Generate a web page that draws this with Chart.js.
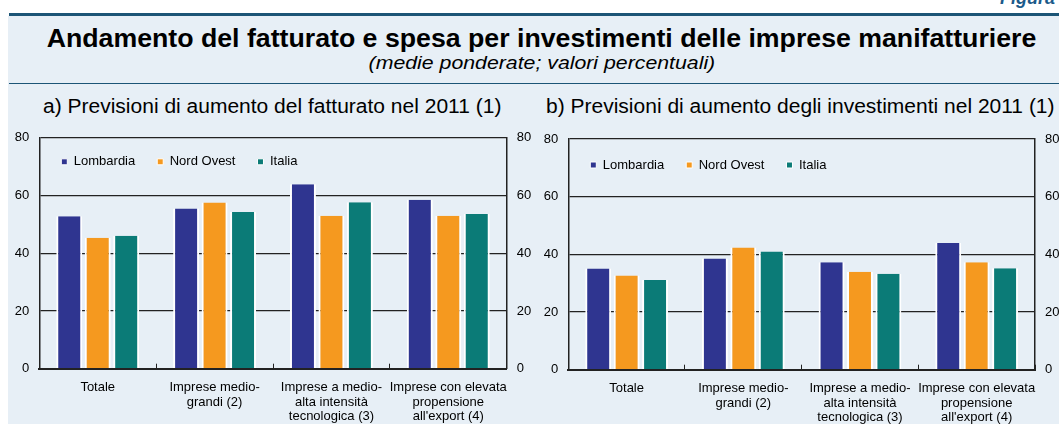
<!DOCTYPE html>
<html><head><meta charset="utf-8">
<script src="https://cdn.jsdelivr.net/npm/chart.js@4"></script>
<style>
html,body{margin:0;padding:0;background:#fff;width:1059px;height:424px;overflow:hidden;font-family:"Liberation Sans",Arial,sans-serif;}
#bg{position:absolute;left:8px;top:16px;width:1100px;height:420px;background:#e7eff6;}
#topline{position:absolute;left:9px;top:13px;width:1100px;height:3px;background:#1c5576;}
#boxline{position:absolute;left:9px;top:83px;width:1100px;height:1px;background:#1c5576;}
#fig{position:absolute;left:1000px;top:-12px;font:bold italic 18px/20px "Liberation Sans",Arial;color:#1c5a8a;white-space:nowrap;}
#title{position:absolute;left:8px;width:1067px;top:23px;text-align:center;font:bold 25px/30px "Liberation Sans",Arial;color:#000;white-space:nowrap;transform:scaleX(1.068);transform-origin:533.5px 0;}
#sub{position:absolute;left:8px;width:1067px;top:52px;text-align:center;font:italic 19px/22px "Liberation Sans",Arial;color:#000;white-space:nowrap;transform:scaleX(1.12);transform-origin:530px 0;}
.h{position:absolute;top:94px;font:20px/24px "Liberation Sans",Arial;color:#000;white-space:nowrap;transform:scaleX(1.05);transform-origin:0 0;}
#ha{left:43px;}
#hb{left:546px;}
.cw{position:absolute;top:120px;height:304px;}
#wa{left:0;width:537px;}
#wb{left:537px;width:522px;}
</style></head>
<body>
<div id="bg"></div>
<div id="topline"></div>
<div id="boxline"></div>
<div id="fig">Figura 1.</div>
<div id="title">Andamento del fatturato e spesa per investimenti delle imprese manifatturiere</div>
<div id="sub">(medie ponderate; valori percentuali)</div>
<div class="h" id="ha">a) Previsioni di aumento del fatturato nel 2011 (1)</div>
<div class="h" id="hb">b) Previsioni di aumento degli investimenti nel 2011 (1)</div>
<div class="cw" id="wa"><canvas id="ca" width="537" height="304"></canvas></div>
<div class="cw" id="wb"><canvas id="cb" width="522" height="304"></canvas></div>
<script>
const categories = [
  ['Totale'],
  ['Imprese medio-', 'grandi (2)'],
  ['Imprese a medio-', 'alta intensità', 'tecnologica (3)'],
  ['Imprese con elevata', 'propensione', "all'export (4)"]
];
const seriesNames = ['Lombardia', 'Nord Ovest', 'Italia'];
const seriesColors = ['#2f3590', '#f5991f', '#0b7b77'];
const fatturatoLombardia = [52.8, 55.5, 63.9, 58.5];
const fatturatoNordOvest = [45.4, 57.6, 53.0, 53.0];
const fatturatoItalia = [46.1, 54.3, 57.7, 53.6];
const investimentiLombardia = [35.1, 38.6, 37.3, 43.9];
const investimentiNordOvest = [32.7, 42.4, 34.0, 37.3];
const investimentiItalia = [31.1, 41.0, 33.3, 35.2];
const yTickValues = [0, 20, 40, 60, 80];

const FONT = {family: '"Liberation Sans", Arial, sans-serif', size: 13};

// move the (horizontal) legend inside the plot area, at its top-left corner
const legendInside = {
  id: 'legendInside',
  afterLayout(chart, args, opts) {
    const lg = chart.legend, ca = chart.chartArea;
    if (!lg) return;
    const h = 60;
    lg.left = ca.left; lg.right = ca.right;
    lg.top = ca.top + (opts.dy || 0); lg.bottom = lg.top + h;
    lg.width = ca.right - ca.left; lg.height = h;
  }
};

function makeChart(id, seriesData, geo) {
  const datasets = seriesNames.map((name, i) => ({
    label: name,
    data: seriesData[i],
    backgroundColor: seriesColors[i],
    borderColor: '#ffffff',
    borderWidth: {left: 2, right: 2, top: 0, bottom: 0},
    borderSkipped: false,
    categoryPercentage: 0.731,
    barPercentage: 0.912,
    inflateAmount: 0
  }));
  const yCommon = {
    min: 0, max: 80,
    afterBuildTicks: (s) => { s.ticks = yTickValues.map(v => ({value: v})); },
    ticks: {font: FONT, color: '#000', padding: 10}
  };
  return new Chart(document.getElementById(id), {
    type: 'bar',
    data: {labels: categories, datasets},
    options: {
      responsive: false,
      animation: false,
      devicePixelRatio: 1,
      layout: {padding: {left: 0, right: 0, top: geo.top - 1, bottom: 0}},
      plugins: {
        legend: {
          position: 'top', align: 'start', fullSize: false, maxHeight: 1,
          labels: {boxWidth: 6, boxHeight: 6, padding: 22, font: FONT, color: '#000'}
        },
        legendInside: {dy: geo.legendDy},
        tooltip: {enabled: false}
      },
      scales: {
        x: {
          afterFit: (s) => { s.height = geo.xh; },
          grid: {drawOnChartArea: false, drawTicks: true, tickLength: -5, color: '#222', lineWidth: 1},
          border: {display: true, color: '#222', width: 2},
          ticks: {font: Object.assign({lineHeight: 1.1}, FONT), color: '#000', padding: 17, autoSkip: false, maxRotation: 0, minRotation: 0}
        },
        y: Object.assign({}, yCommon, {
          position: 'left',
          afterFit: (s) => { s.width = geo.yl; },
          grid: {color: '#222', lineWidth: 1.2, drawTicks: false},
          border: {display: true, color: '#222', width: 1.5}
        }),
        y2: Object.assign({}, yCommon, {
          position: 'right',
          afterFit: (s) => { s.width = geo.yr; },
          grid: {display: true, drawOnChartArea: false, drawTicks: false},
          border: {display: true, color: '#222', width: 1.5}
        })
      }
    },
    plugins: [legendInside]
  });
}

makeChart('ca', [fatturatoLombardia, fatturatoNordOvest, fatturatoItalia],
  {top: 17.7, xh: 55.3, yl: 39.3, yr: 30.3, legendDy: -4.5});
makeChart('cb', [investimentiLombardia, investimentiNordOvest, investimentiItalia],
  {top: 19, xh: 54.3, yl: 31.3, yr: 24, legendDy: -2.5});
</script>
</body></html>
